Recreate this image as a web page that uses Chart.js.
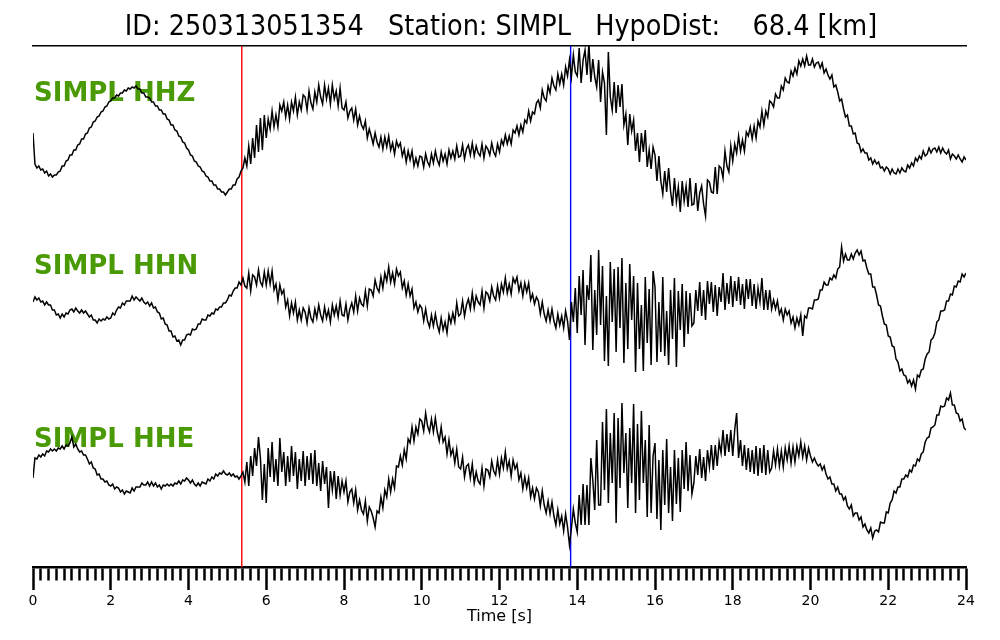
<!DOCTYPE html>
<html><head><meta charset="utf-8">
<script src="https://cdn.jsdelivr.net/npm/chart.js@4.4.1/dist/chart.umd.min.js"></script>
<style>html,body{margin:0;padding:0;background:#fff}canvas{display:block}</style>
</head><body>
<canvas id="c" width="1000" height="640"></canvas>
<script>
const titleText = 'ID: 250313051354   Station: SIMPL   HypoDist:    68.4 [km]';
const channels = ['SIMPL HHZ', 'SIMPL HHN', 'SIMPL HHE'];
const xLabel = 'Time [s]';
const dt = 0.05;           // sample spacing of the arrays below [s]
const tMin = 0, tMax = 24;
const minorStep = 0.2, majorStep = 2;
const pPick = 5.37, sPick = 13.83;

// amplitudes (arbitrary units) sampled every 0.05 s, one row per second
const hhz = [
 -3,-34,-38,-36,-40,-39,-43,-41,-46,-44,-47,-45,-45,-42,-41,-36,-36,-31,-30,-25,
 -25,-20,-20,-15,-14,-9,-9,-4,-3,2,3,8,9,13,14,18,19,23,24,28,
 29,32,32,35,34,37,37,40,39,42,41,43,42,44,41,41,37,37,33,33,
 32,28,28,24,24,20,20,16,16,11,10,5,5,0,-1,-6,-7,-12,-13,-18,
 -20,-25,-26,-31,-32,-36,-37,-41,-42,-46,-47,-51,-51,-55,-55,-59,-59,-62,-62,-65,
 -62,-59,-59,-55,-55,-49,-47,-41,-38,-28,-36,-16,-34,-8,-28,5,-22,12,-20,15,
 -8,11,1,19,3,15,3,25,19,28,13,25,11,28,19,33,15,28,20,35,
 33,20,39,27,21,38,28,45,33,26,45,31,42,26,45,31,39,24,42,22,
 20,28,12,19,22,10,21,5,14,5,1,9,-8,1,-6,-14,-3,-12,-17,-7,
 -19,-7,-17,-6,-20,-13,-24,-11,-17,-13,-26,-19,-32,-21,-30,-21,-36,-28,-36,-26,
 -27,-37,-24,-32,-36,-24,-33,-21,-30,-35,-22,-31,-24,-34,-20,-28,-21,-29,-16,-27,
 -26,-15,-29,-19,-15,-25,-13,-26,-16,-23,-26,-14,-28,-16,-19,-25,-13,-22,-26,-14,
 -22,-10,-15,-5,-14,-6,-14,0,-3,4,-5,5,-2,10,7,19,9,18,16,27,
 30,22,40,32,29,44,37,52,44,40,56,46,56,45,63,54,70,53,75,58,
 54,82,47,70,80,55,86,48,71,53,43,70,28,58,47,-5,78,33,20,48,
 17,45,23,46,5,16,-15,16,-1,10,-21,-3,-32,-3,-22,0,-37,-20,-39,-17,
 -25,-51,-26,-51,-64,-41,-62,-38,-61,-76,-48,-72,-57,-82,-51,-71,-56,-77,-48,-75,
 -74,-53,-81,-63,-56,-74,-86,-50,-52,-62,-63,-37,-64,-36,-38,-48,-21,-36,-42,-16,
 -31,-14,-23,-6,-21,-10,-21,-2,-6,3,-9,4,-8,9,3,19,5,19,13,29,
 27,23,36,32,32,44,40,52,48,47,59,54,62,56,69,64,71,64,74,65,
 65,71,63,67,68,62,67,57,61,55,51,55,43,45,38,29,31,21,13,15,
 4,4,-4,-3,-13,-14,-22,-19,-23,-23,-30,-28,-34,-30,-34,-32,-38,-37,-41,-37,
 -39,-44,-39,-43,-44,-39,-43,-38,-41,-42,-35,-38,-33,-36,-28,-31,-26,-29,-21,-26,
 -24,-18,-23,-19,-18,-22,-17,-23,-18,-22,-24,-20,-29,-24,-26,-29,-25,-29,-32,-27,
 -30];

const hhn = [
 -2,3,0,2,-2,-1,-5,-2,-5,-5,-10,-10,-15,-14,-18,-14,-17,-13,-14,-10,
 -9,-12,-8,-11,-13,-10,-13,-11,-14,-17,-15,-20,-20,-23,-19,-21,-19,-20,-17,-19,
 -18,-13,-15,-10,-7,-8,-3,-5,-1,-1,-1,4,0,3,1,-1,2,-2,-4,-2,
 -6,-3,-8,-7,-12,-13,-19,-18,-24,-25,-31,-31,-37,-36,-41,-40,-45,-40,-40,-35,
 -34,-35,-29,-30,-29,-24,-24,-19,-20,-20,-15,-16,-13,-14,-9,-10,-7,-7,-3,-3,
 0,5,4,9,12,12,18,15,22,14,12,27,9,25,23,15,30,18,14,28,
 15,29,16,29,10,16,0,15,6,10,-7,0,-16,-3,-13,-2,-20,-10,-20,-8,
 -12,-23,-8,-18,-22,-9,-18,-5,-15,-21,-7,-18,-10,-22,-5,-15,-6,-17,-1,-15,
 -16,-4,-20,-9,-3,-12,4,-11,2,-4,-6,9,-6,11,10,4,20,12,8,23,
 12,27,19,33,18,27,16,31,24,28,12,19,5,16,4,11,-8,-2,-12,-5,
 -8,-21,-9,-21,-27,-15,-26,-14,-25,-32,-18,-30,-22,-33,-15,-23,-13,-22,-3,-16,
 -14,-1,-16,-5,1,-9,7,-8,4,-2,-5,9,-8,8,6,-1,13,4,0,14,
 2,16,8,22,7,16,6,22,17,23,9,17,4,17,8,17,0,6,-4,3,
 -1,-14,-2,-14,-21,-10,-21,-9,-21,-28,-14,-25,-16,-28,-11,-21,-40,-2,-22,12,
 -33,24,-15,30,-45,15,0,45,-50,10,-35,50,-25,34,-61,4,-66,38,-22,31,
 -52,33,-28,42,-63,17,-49,36,-20,24,-72,17,-49,-5,-71,23,-43,11,-65,29,
 13,-62,-2,-52,23,-56,-11,-65,10,-39,22,-67,9,-30,16,-47,9,-34,7,-26,
 -23,10,-11,18,-16,10,-20,19,-4,18,-12,15,-16,13,-2,27,-10,17,-4,24,
 -7,19,-1,23,-5,16,-9,21,1,21,-6,16,-9,12,-2,22,-10,10,-10,10,
 -9,0,-9,-1,-14,-9,-20,-9,-15,-11,-23,-17,-28,-18,-25,-15,-36,-16,-18,-8,
 -8,-9,0,0,1,10,10,18,15,15,22,20,25,22,31,33,53,39,46,40,
 40,46,41,47,50,45,49,39,40,32,26,26,13,13,5,-5,-6,-16,-24,-25,
 -36,-37,-46,-47,-59,-62,-71,-69,-75,-76,-83,-80,-86,-80,-89,-75,-77,-70,-69,-59,
 -54,-52,-40,-38,-33,-22,-20,-11,-11,-10,-1,-1,6,5,14,13,19,18,26,23,
 27];

const hhe = [
 -8,12,11,15,13,16,14,19,18,21,19,21,19,22,21,24,21,25,24,27,
 33,23,26,21,18,19,15,15,11,6,8,2,1,-5,-4,-9,-9,-12,-11,-15,
 -16,-14,-19,-17,-18,-22,-20,-24,-21,-22,-23,-18,-21,-17,-17,-17,-13,-15,-15,-12,
 -16,-12,-16,-13,-17,-15,-19,-15,-16,-14,-16,-14,-16,-13,-14,-11,-14,-10,-11,-8,
 -10,-13,-10,-14,-16,-13,-16,-12,-13,-14,-9,-11,-7,-9,-4,-6,-3,-4,-1,-4,
 -5,-3,-6,-4,-7,-6,-9,-6,-2,-12,8,-16,14,-6,22,4,33,12,-30,6,
 -33,22,-7,28,-12,11,-16,32,-2,18,-16,14,-12,24,-6,18,-19,11,-11,19,
 -16,14,-10,17,-14,20,-16,7,-21,9,-14,3,-38,-1,-20,-1,-29,-6,-25,-11,
 -22,-11,-32,-22,-19,-33,-20,-40,-30,-40,-44,-31,-51,-37,-41,-48,-57,-41,-43,-27,
 -38,-20,-27,-9,-22,-9,-18,4,3,14,5,20,11,31,27,43,29,43,36,51,
 49,39,57,44,38,51,38,52,38,29,43,28,33,16,30,15,21,7,21,3,
 1,13,-7,4,6,-8,6,-13,-2,-11,-14,2,-16,1,0,-7,9,-1,-5,10,
 -4,12,2,18,1,9,-6,10,1,6,-10,-3,-19,-7,-18,-8,-27,-18,-29,-18,
 -22,-36,-21,-35,-43,-31,-44,-32,-46,-55,-40,-54,-46,-61,-44,-57,-75,-58,-39,-53,
 -62,-25,-55,-14,-55,-15,-55,12,-10,-40,30,-35,-35,48,-20,61,-33,37,-13,57,
 -53,52,-18,67,-3,37,-38,42,-13,66,-43,46,-30,59,-13,30,-47,45,-43,14,
 27,-49,10,-60,20,-35,31,-43,3,-51,20,-34,12,-42,20,-19,28,-21,15,-24,
 -13,14,-5,21,-8,13,-11,20,3,25,0,25,4,28,17,40,14,36,18,40,
 14,40,57,12,30,4,25,0,22,-2,20,-4,24,-6,22,-3,25,-5,20,-2,
 2,19,5,21,4,19,3,22,10,24,7,23,8,24,14,28,13,24,10,22,
 14,8,12,7,4,6,0,4,-4,-9,-7,-14,-14,-21,-17,-24,-24,-30,-27,-36,
 -39,-35,-46,-43,-43,-50,-47,-57,-54,-60,-63,-58,-68,-61,-60,-62,-52,-53,-53,-42,
 -43,-33,-30,-21,-23,-17,-17,-9,-9,-5,-7,0,-2,5,4,11,9,16,18,28,
 32,33,42,43,45,55,55,64,63,64,72,70,77,65,65,57,56,49,51,42,
 40];

// layout of the stacked traces (plot units)
const yRange = [0, 521];
const traceOffsets = [437, 267, 97];
const labelLift = [36, 33, 30];
const traceColor = '#000000';
const labelColor = '#4a9a06';

const traces = [hhz, hhn, hhe];
const datasets = traces.map((vals, k) => ({
  label: channels[k],
  data: vals.map((v, i) => ({ x: Math.round(i * dt * 100) / 100, y: v + traceOffsets[k] })),
  borderColor: traceColor, borderWidth: 1.5, pointRadius: 0, tension: 0, fill: false
}));
[[pPick, '#ff0000'], [sPick, '#0000ff']].forEach(([t, c]) => {
  datasets.push({ label: 'pick', data: [{ x: t, y: yRange[0] }, { x: t, y: yRange[1] }],
    borderColor: c, borderWidth: 1.4, pointRadius: 0, fill: false });
});

const isMajor = v => Math.abs(v / majorStep - Math.round(v / majorStep)) < 1e-6;

const textPlugin = {
  id: 'texts',
  beforeDatasetsDraw(chart) {
    const { ctx, scales } = chart;
    ctx.save();
    ctx.font = "bold 26px 'DejaVu Sans'";
    ctx.fillStyle = labelColor;
    ctx.textBaseline = 'middle';
    ctx.textAlign = 'left';
    channels.forEach((name, k) => {
      ctx.fillText(name, scales.x.getPixelForValue(tMin) + 1, scales.y.getPixelForValue(traceOffsets[k] + labelLift[k]));
    });
    ctx.restore();
  },
  afterDraw(chart) {
    const { ctx } = chart;
    ctx.save();
    ctx.font = "28.4px 'DejaVu Sans Condensed', 'DejaVu Sans'";
    ctx.fillStyle = '#000';
    ctx.textAlign = 'center';
    ctx.textBaseline = 'middle';
    ctx.fillText(titleText, 501, 28);
    ctx.restore();
  }
};

new Chart(document.getElementById('c'), {
  type: 'line',
  data: { datasets },
  plugins: [textPlugin],
  options: {
    responsive: false, animation: false, devicePixelRatio: 1,
    layout: { padding: { left: 33, right: 34, top: 46, bottom: 15 } },
    plugins: { legend: { display: false }, tooltip: { enabled: false }, title: { display: false } },
    scales: {
      x: {
        type: 'linear', position: 'bottom', min: tMin, max: tMax,
        border: { display: true, color: '#000', width: 2.5 },
        grid: {
          drawOnChartArea: false, drawTicks: true, tickLength: 23,
          tickColor: '#000', tickWidth: 2.5,
          tickBorderDash: ctx => (ctx.tick && isMajor(ctx.tick.value)) ? [] : [12, 100]
        },
        ticks: {
          stepSize: minorStep, autoSkip: false, maxRotation: 0, padding: 4,
          color: '#000', font: { family: "'DejaVu Sans'", size: 14, lineHeight: 1 },
          callback: v => isMajor(v) ? String(Math.round(v)) : ''
        },
        title: { display: true, text: xLabel, color: '#000', padding: { top: -3, bottom: 0 },
          font: { family: "'DejaVu Sans'", size: 16, lineHeight: 1 } }
      },
      xTop: {
        type: 'linear', position: 'top', min: tMin, max: tMax,
        border: { display: true, color: '#000', width: 1.5 },
        grid: { display: false, drawTicks: false },
        ticks: { display: false }
      },
      y: { type: 'linear', min: yRange[0], max: yRange[1], display: false }
    }
  }
});
</script>
</body></html>
